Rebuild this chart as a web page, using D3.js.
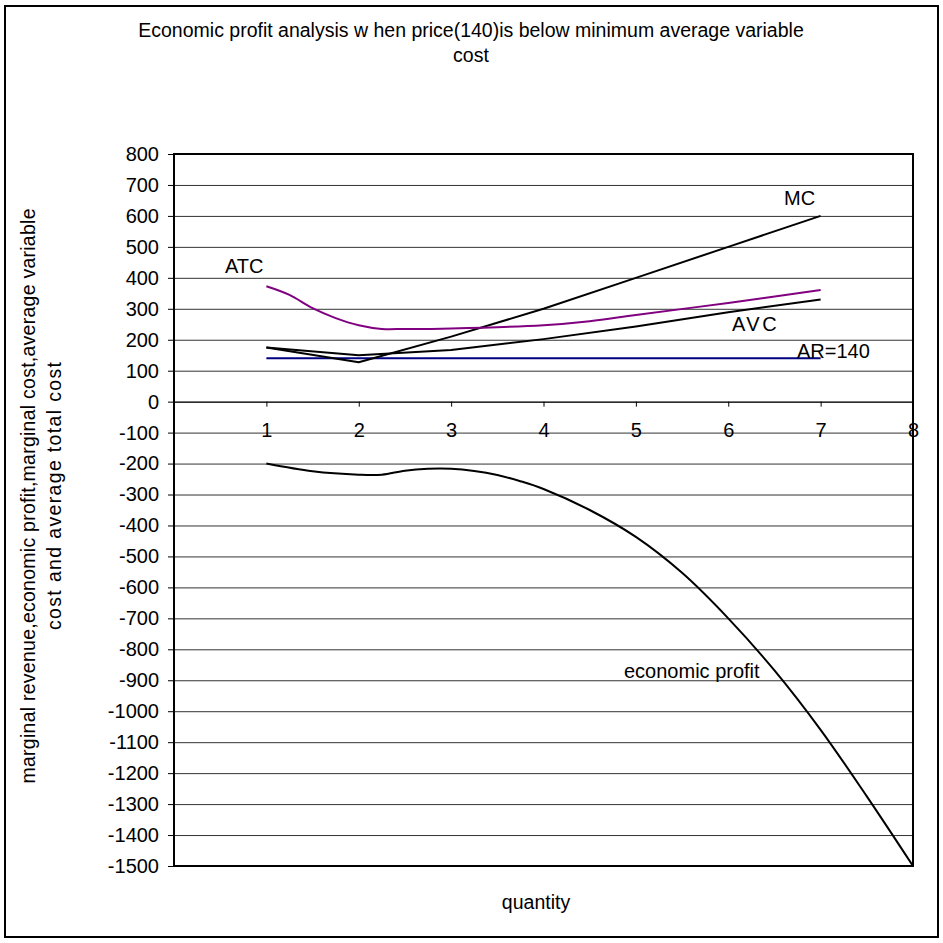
<!DOCTYPE html>
<html>
<head>
<meta charset="utf-8">
<script src="https://cdn.jsdelivr.net/npm/d3@7"></script>
<style>
  html, body { margin: 0; padding: 0; background: #fff; }
  svg text { font-family: "Liberation Sans", Arial, sans-serif; fill: #000; }
</style>
</head>
<body>
<svg id="chart" width="943" height="943"></svg>
<script>
// Quantity ticks and value ticks
const xTickValues = [1, 2, 3, 4, 5, 6, 7, 8];
const yTickValues = d3.range(-1500, 801, 100);

// Marginal cost
const mcQty  = [1, 2, 3, 4, 5, 6, 7];
const mcVals = [175, 127, 210, 300, 400, 500, 600];

// Average variable cost
const avcQty  = [1, 2, 3, 4, 5, 6, 7];
const avcVals = [175, 150, 167, 202, 243, 289, 330];

// Average total cost
const atcQty  = [1, 1.25, 1.5, 1.75, 2, 2.25, 2.5, 2.75, 3, 4, 4.5, 5, 6, 7];
const atcVals = [373, 345, 302, 270, 247, 235, 235, 235, 236, 247, 260, 280, 319, 361];

// Average revenue (price) = 140
const arQty  = [1, 2, 3, 4, 5, 6, 7];
const arVals = [140, 140, 140, 140, 140, 140, 140];

// Economic profit
const profitQty  = [1, 1.5, 2, 2.25, 2.5, 2.75, 3, 3.25, 3.5, 3.75, 4, 4.5, 5, 5.5, 6, 6.5, 7, 7.5, 8];
const profitVals = [-200, -225, -236, -236, -223, -217, -217, -224, -237, -257, -282, -350, -437, -553, -700, -868, -1060, -1275, -1500];

const svg = d3.select("#chart");
const plot = { left: 174, right: 913, top: 154, bottom: 866 };

const x = d3.scaleLinear().domain([0, 8]).range([plot.left, plot.right]);
const y = d3.scaleLinear().domain([-1500, 800]).range([plot.bottom, plot.top]);

const fontFamily = '"Liberation Sans", Arial, sans-serif';
// Integer labels with a plain hyphen for negatives
const intFormat = d => String(Math.round(d));

// Outer chart border
svg.append("rect")
  .attr("x", 5).attr("y", 6).attr("width", 933).attr("height", 931)
  .attr("fill", "#fff").attr("stroke", "#000").attr("stroke-width", 2);

// Horizontal gridlines
svg.append("g")
  .selectAll("line").data(yTickValues).join("line")
  .attr("x1", plot.left).attr("x2", plot.right)
  .attr("y1", d => y(d) + 0.5).attr("y2", d => y(d) + 0.5)
  .attr("stroke", "#333").attr("stroke-width", 1);

// Plot frame
svg.append("rect")
  .attr("x", plot.left).attr("y", plot.top)
  .attr("width", plot.right - plot.left).attr("height", plot.bottom - plot.top)
  .attr("fill", "none").attr("stroke", "#000").attr("stroke-width", 2);

// Value axis on the left
const yAxis = d3.axisLeft(y).tickValues(yTickValues).tickSize(6).tickPadding(9).tickFormat(intFormat);
const gy = svg.append("g").attr("transform", `translate(${plot.left},0)`).call(yAxis);
gy.select(".domain").remove();
gy.selectAll(".tick line").attr("stroke", "#000");
gy.selectAll(".tick text").attr("font-size", "20px").attr("fill", "#000").style("font-family", fontFamily);

// Quantity axis crossing at zero
const xAxis = d3.axisBottom(x).tickValues(xTickValues).tickSize(5).tickPadding(16).tickFormat(intFormat);
const gx = svg.append("g").attr("transform", `translate(0,${y(0)})`).call(xAxis);
gx.select(".domain").attr("stroke", "#000").attr("stroke-width", 1);
gx.selectAll(".tick line").attr("stroke", "#000");
gx.selectAll(".tick text").attr("font-size", "20px").attr("fill", "#000").style("font-family", fontFamily);

// Series lines
const series = [
  { qty: arQty, vals: arVals, color: "#000080", curve: d3.curveLinear },
  { qty: avcQty, vals: avcVals, color: "#000", curve: d3.curveLinear },
  { qty: mcQty, vals: mcVals, color: "#000", curve: d3.curveLinear },
  { qty: atcQty, vals: atcVals, color: "#800080", curve: d3.curveCatmullRom.alpha(0.5) },
  { qty: profitQty, vals: profitVals, color: "#000", curve: d3.curveCatmullRom.alpha(0.5) }
];
series.forEach(s => {
  const pts = s.qty.map((q, i) => [q, s.vals[i]]);
  svg.append("path")
    .datum(pts)
    .attr("fill", "none")
    .attr("stroke", s.color)
    .attr("stroke-width", 2)
    .attr("stroke-linejoin", "round")
    .attr("d", d3.line().x(d => x(d[0])).y(d => y(d[1])).curve(s.curve));
});

// Curve labels
const labels = [
  { text: "ATC", x: 225, y: 273, ls: 0 },
  { text: "MC", x: 784, y: 205, ls: 0 },
  { text: "AVC", x: 732, y: 331, ls: 2.5 },
  { text: "AR=140", x: 797, y: 358, ls: 0 },
  { text: "economic profit", x: 624, y: 678, ls: 0 }
];
svg.append("g").selectAll("text").data(labels).join("text")
  .attr("x", d => d.x).attr("y", d => d.y)
  .attr("font-size", "20px")
  .attr("letter-spacing", d => d.ls)
  .text(d => d.text);

// Title
const title = svg.append("text").attr("text-anchor", "middle").attr("font-size", "19.5px");
title.append("tspan").attr("x", 471).attr("y", 37)
  .text("Economic profit analysis w hen price(140)is below  minimum average variable");
title.append("tspan").attr("x", 471).attr("y", 62).text("cost");

// Value axis title (two lines)
const yTitle = svg.append("text").attr("text-anchor", "middle").attr("font-size", "19.5px")
  .attr("transform", "translate(0,496) rotate(-90)");
yTitle.append("tspan").attr("x", 0).attr("y", 35)
  .attr("textLength", 575).attr("lengthAdjust", "spacing")
  .text("marginal revenue,economic profit,marginal cost,average variable");
yTitle.append("tspan").attr("x", 0).attr("y", 61)
  .attr("textLength", 268).attr("lengthAdjust", "spacing")
  .text("cost and average total cost");

// Quantity axis title
svg.append("text").attr("x", 536).attr("y", 909).attr("text-anchor", "middle")
  .attr("font-size", "19.5px").text("quantity");
</script>
</body>
</html>
